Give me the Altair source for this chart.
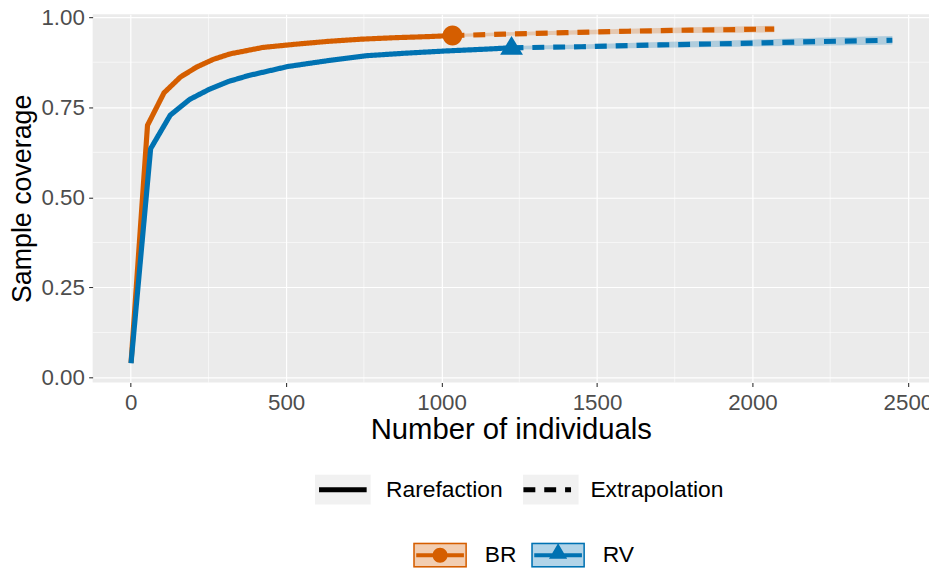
import altair as alt
import pandas as pd

# ---------------- data ----------------
groups = ["BR", "RV"]
methods = ["Rarefaction", "Extrapolation"]
colors = ["#D55E00", "#0072B2"]

br_rare_x = [1, 54, 107, 160, 213, 266, 319, 425, 531, 637, 743, 849, 955, 1035]
br_rare_y = [0.041, 0.700, 0.790, 0.834, 0.862, 0.883, 0.898, 0.916, 0.925, 0.933, 0.939, 0.943, 0.946, 0.949]
br_rare_lo = [0.039, 0.694, 0.785, 0.829, 0.857, 0.878, 0.893, 0.912, 0.921, 0.929, 0.935, 0.939, 0.942, 0.945]
br_rare_hi = [0.043, 0.706, 0.795, 0.839, 0.867, 0.888, 0.903, 0.920, 0.929, 0.937, 0.943, 0.947, 0.950, 0.953]

br_ext_x = [1035, 1200, 1400, 1600, 1800, 2070]
br_ext_y = [0.949, 0.953, 0.957, 0.961, 0.964, 0.967]
br_ext_lo = [0.945, 0.948, 0.951, 0.954, 0.956, 0.958]
br_ext_hi = [0.953, 0.958, 0.963, 0.968, 0.972, 0.976]

rv_rare_x = [1, 64, 127, 190, 253, 316, 379, 505, 631, 757, 883, 1009, 1135, 1225]
rv_rare_y = [0.040, 0.635, 0.728, 0.772, 0.800, 0.822, 0.838, 0.863, 0.879, 0.893, 0.900, 0.906, 0.911, 0.915]
rv_rare_lo = [0.038, 0.628, 0.722, 0.766, 0.794, 0.816, 0.833, 0.858, 0.874, 0.888, 0.895, 0.901, 0.906, 0.910]
rv_rare_hi = [0.042, 0.642, 0.734, 0.778, 0.806, 0.828, 0.843, 0.868, 0.884, 0.898, 0.905, 0.911, 0.916, 0.920]

rv_ext_x = [1225, 1450, 1700, 1950, 2200, 2450]
rv_ext_y = [0.915, 0.918, 0.923, 0.927, 0.932, 0.936]
rv_ext_lo = [0.910, 0.912, 0.915, 0.918, 0.921, 0.924]
rv_ext_hi = [0.920, 0.924, 0.931, 0.936, 0.943, 0.948]

ref_x = [1035, 1225]
ref_y = [0.949, 0.915]

x_ticks = [0, 500, 1000, 1500, 2000, 2500]
y_ticks = [0.0, 0.25, 0.50, 0.75, 1.00]
minor_x = [250, 750, 1250, 1750, 2250]
minor_y = [0.125, 0.375, 0.625, 0.875]

# ---------------- tables ----------------
rows = []
def add(g, m, xs, ys, los, his):
    for a, b, c, d in zip(xs, ys, los, his):
        rows.append({"group": g, "method": m, "x": a, "y": b, "lo": c, "hi": d})

add("BR", "Rarefaction", br_rare_x, br_rare_y, br_rare_lo, br_rare_hi)
add("BR", "Extrapolation", br_ext_x, br_ext_y, br_ext_lo, br_ext_hi)
add("RV", "Rarefaction", rv_rare_x, rv_rare_y, rv_rare_lo, rv_rare_hi)
add("RV", "Extrapolation", rv_ext_x, rv_ext_y, rv_ext_lo, rv_ext_hi)
df = pd.DataFrame(rows)

ref_df = pd.DataFrame({"group": groups, "x": ref_x, "y": ref_y, "method": methods})
mx_df = pd.DataFrame({"x": minor_x})
my_df = pd.DataFrame({"y": minor_y})

FONT = "Liberation Sans"
Y_DOMAIN = [-0.01376, 1.00826]
PLOT_W, PLOT_H = 843, 371.3

X = alt.X("x:Q", title="Number of individuals",
          scale=alt.Scale(domain=[-122.55, 2567.9], nice=False, zero=False),
          axis=alt.Axis(values=x_ticks, format="d", grid=True, gridColor="white", gridWidth=1.2,
                        domain=False, tickColor="#333333", tickSize=4, tickWidth=1.1,
                        labelFontSize=22.5, labelColor="#4D4D4D", labelPadding=5.5,
                        labelFont=FONT, titleFont=FONT, titleFontSize=29.5,
                        titleFontWeight="normal", titleColor="black",
                        titleY=56.7, titleBaseline="alphabetic", labelFlush=False,
                        labelOverlap=False))
Y = alt.Y("y:Q", title="Sample coverage",
          scale=alt.Scale(domain=Y_DOMAIN, nice=False, zero=False),
          axis=alt.Axis(values=y_ticks, format=".2f", grid=True, gridColor="white",
                        gridWidth=1.2, domain=False, tickColor="#333333", tickSize=4,
                        tickWidth=1.1, labelFontSize=22.5, labelColor="#4D4D4D",
                        labelPadding=4.3, labelFont=FONT, titleFont=FONT,
                        titleFontSize=27, titleFontWeight="normal", titleColor="black",
                        titleX=-71, titleY=PLOT_H / 2, titleBaseline="middle",
                        labelFlush=False, labelOverlap=False))

# legend geometry
ROW1_X, ROW1_Y = 221.7, 448.5
ROW2_X, ROW2_Y = 323.2, 518.0

def row1_legend(**kw):
    base = dict(orient="none", legendX=ROW1_X, legendY=ROW1_Y, direction="horizontal",
                title=None, symbolSize=3136, symbolStrokeWidth=5, labelFontSize=23,
                labelFont=FONT, labelColor="black", labelOffset=13, columnPadding=10,
                padding=0, labelLimit=400)
    base.update(kw)
    return alt.Legend(**base)

def row2_legend(**kw):
    base = dict(orient="none", legendX=ROW2_X, legendY=ROW2_Y, direction="horizontal",
                title=None, symbolSize=2916, symbolStrokeWidth=0, labelFontSize=23,
                labelFont=FONT, labelColor="black", labelOffset=18, columnPadding=15,
                padding=0, labelLimit=400)
    base.update(kw)
    return alt.Legend(**base)

circle_path = "M-1,0A1,1 0 1,1 1,0A1,1 0 1,1 -1,0Z"
tri_path = "M0,-1.2L1.15,0.7L-1.15,0.7Z"
ring = "M-1,-0.463H1V0.463H-1Z M-0.944,-0.407V0.407H0.944V-0.407Z"
bar = "M-0.89,-0.074H0.89V0.074H-0.89Z"
key_br = ring + " " + bar + " M-0.28,0A0.28,0.28 0 1,1 0.28,0A0.28,0.28 0 1,1 -0.28,0Z"
key_rv = ring + " " + bar + " M0,-0.44L0.34,0.13L-0.34,0.13Z"

minor_xr = alt.Chart(mx_df).mark_rule(color="white", strokeWidth=0.6).encode(x=X)
minor_yr = alt.Chart(my_df).mark_rule(color="white", strokeWidth=0.6).encode(y=Y)

band = alt.Chart(df).mark_area(opacity=0.25).encode(
    x=X, y=alt.Y("lo:Q", scale=alt.Scale(domain=Y_DOMAIN, nice=False, zero=False)),
    y2="hi:Q",
    fill=alt.Fill("group:N", scale=alt.Scale(domain=groups, range=colors),
                  legend=row2_legend(symbolType="M-1,-0.463H1V0.463H-1Z", symbolOpacity=0.3)),
)

lines = alt.Chart(df).mark_line(strokeWidth=5.2).encode(
    x=X, y=Y,
    stroke=alt.Stroke("group:N", scale=alt.Scale(domain=groups, range=colors), legend=None),
    strokeDash=alt.StrokeDash("method:N",
                              scale=alt.Scale(domain=methods, range=[[1, 0], [12, 9]]),
                              legend=row1_legend(symbolType="M-0.857,0H0.857",
                                                 symbolStrokeColor="black")),
    order="x:Q",
)

markers = alt.Chart(ref_df).mark_point(filled=True, size=400, opacity=1).encode(
    x=X, y=Y,
    color=alt.Color("group:N", scale=alt.Scale(domain=groups, range=colors), legend=None),
    shape=alt.Shape("group:N", scale=alt.Scale(domain=groups, range=[circle_path, tri_path]),
                    legend=None),
)

# key backgrounds: empty labels, padding widened by the width of the visible label
key_boxes = alt.Chart(ref_df).mark_point(filled=True).transform_filter("false").encode(
    x=X, y=Y,
    fill=alt.Fill("method:N", scale=alt.Scale(domain=methods, range=["black", "black"]),
                  legend=row1_legend(symbolType="M-1,-0.536H1V0.536H-1Z",
                                     symbolStrokeColor="transparent",
                                     symbolOpacity=0.05, labelExpr="''",
                                     columnPadding=10 + 117.6)),
)

key_marks = alt.Chart(ref_df).mark_point(filled=True, opacity=1).transform_filter("false").encode(
    x=X, y=Y,
    color=alt.Color("group:N", scale=alt.Scale(domain=groups, range=colors),
                    legend=row2_legend(labelExpr="''", columnPadding=15 + 31.95)),
    shape=alt.Shape("group:N", scale=alt.Scale(domain=groups, range=[key_br, key_rv]),
                    legend=row2_legend(labelExpr="''", columnPadding=15 + 31.95)),
)

chart = alt.layer(minor_xr, minor_yr, band, lines, markers, key_boxes, key_marks).resolve_scale(
    color="independent", shape="independent", fill="independent"
).properties(
    width=PLOT_W, height=PLOT_H,
    autosize=alt.AutoSizeParams(type="none"),
    padding={"left": 85.3, "top": 4, "right": 0, "bottom": 563 - 4 - PLOT_H},
).configure(font=FONT, background="white").configure_view(fill="#EBEBEB", stroke=None)

chart.save("out.html", embed_options={"renderer": "svg", "actions": False})
